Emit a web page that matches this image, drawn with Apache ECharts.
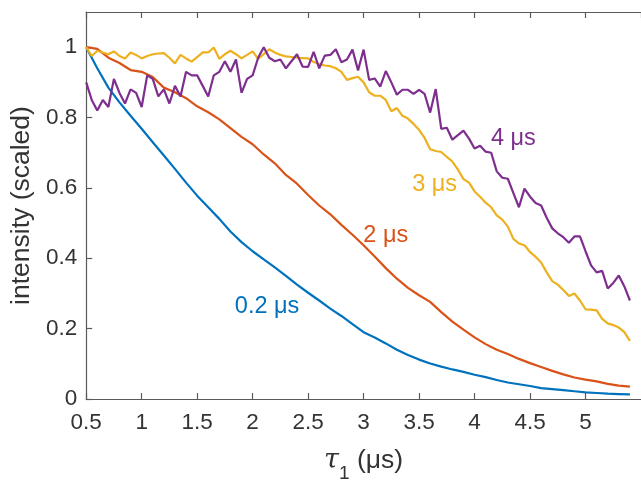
<!DOCTYPE html>
<html>
<head>
<meta charset="utf-8">
<script src="https://cdn.jsdelivr.net/npm/echarts@6/dist/echarts.min.js"></script>
<style>
html,body{margin:0;padding:0;background:#fff;overflow:hidden;}
#chart{width:641px;height:488px;}
</style>
</head>
<body>
<div id="chart"></div>
<script>
// time grids (μs)
const tauCoarse = [0.5,0.6,0.7,0.8,0.9,1.0,1.1,1.2,1.3,1.4,1.5,1.6,1.7,1.8,1.9,2.0,2.1,2.2,2.3,2.4,2.5,2.6,2.7,2.8,2.9,3.0,3.1,3.2,3.3,3.4,3.5,3.6,3.7,3.8,3.9,4.0,4.1,4.2,4.3,4.4,4.5,4.6,4.7,4.8,4.9,5.0,5.1,5.2,5.3,5.4];
const tauFine = [0.5,0.55,0.6,0.65,0.7,0.75,0.8,0.85,0.9,0.95,1.0,1.05,1.1,1.15,1.2,1.25,1.3,1.35,1.4,1.45,1.5,1.55,1.6,1.65,1.7,1.75,1.8,1.85,1.9,1.95,2.0,2.05,2.1,2.15,2.2,2.25,2.3,2.35,2.4,2.45,2.5,2.55,2.6,2.65,2.7,2.75,2.8,2.85,2.9,2.95,3.0,3.05,3.1,3.15,3.2,3.25,3.3,3.35,3.4,3.45,3.5,3.55,3.6,3.65,3.7,3.75,3.8,3.85,3.9,3.95,4.0,4.05,4.1,4.15,4.2,4.25,4.3,4.35,4.4,4.45,4.5,4.55,4.6,4.65,4.7,4.75,4.8,4.85,4.9,4.95,5.0,5.05,5.1,5.15,5.2,5.25,5.3,5.35,5.4];

// 0.2 μs (on tauCoarse)
const series02 = [1.00,0.94,0.885,0.843,0.805,0.768,0.73,0.692,0.654,0.615,0.578,0.545,0.512,0.476,0.446,0.42,0.397,0.374,0.35,0.325,0.302,0.28,0.257,0.236,0.213,0.19,0.175,0.158,0.14,0.125,0.112,0.101,0.092,0.084,0.077,0.069,0.062,0.054,0.047,0.042,0.037,0.031,0.028,0.025,0.022,0.019,0.017,0.015,0.014,0.013];
// 2 μs (on tauCoarse)
const series2 = [1.0,0.995,0.97,0.955,0.935,0.93,0.915,0.885,0.872,0.855,0.832,0.815,0.795,0.77,0.745,0.724,0.695,0.67,0.637,0.612,0.58,0.55,0.525,0.495,0.467,0.437,0.405,0.372,0.342,0.316,0.295,0.276,0.247,0.22,0.197,0.175,0.156,0.14,0.128,0.114,0.102,0.091,0.08,0.07,0.061,0.055,0.05,0.043,0.038,0.035];
// 3 μs (on tauFine)
const series3 = [1.0,0.975,0.99,0.985,0.98,0.988,0.975,0.968,0.985,0.978,0.968,0.975,0.98,0.982,0.983,0.97,0.954,0.978,0.968,0.959,0.972,0.985,0.985,0.999,0.967,0.98,0.99,0.98,0.968,0.978,0.988,0.967,0.98,0.994,0.985,0.978,0.974,0.972,0.97,0.969,0.968,0.958,0.952,0.948,0.946,0.94,0.93,0.907,0.912,0.916,0.9,0.872,0.862,0.862,0.85,0.818,0.827,0.805,0.797,0.782,0.765,0.742,0.71,0.705,0.702,0.688,0.675,0.652,0.625,0.615,0.59,0.575,0.558,0.545,0.522,0.51,0.49,0.455,0.442,0.437,0.418,0.404,0.388,0.36,0.335,0.325,0.31,0.293,0.30,0.28,0.255,0.254,0.252,0.228,0.215,0.21,0.203,0.19,0.165];
// 4 μs (on tauFine)
const series4 = [0.90,0.85,0.82,0.85,0.83,0.91,0.87,0.84,0.88,0.87,0.83,0.92,0.91,0.86,0.88,0.84,0.89,0.86,0.93,0.92,0.92,0.89,0.86,0.92,0.93,0.96,0.93,0.965,0.87,0.91,0.92,0.97,1.0,0.97,0.96,0.965,0.94,0.96,0.98,0.945,0.944,0.987,0.94,0.976,0.978,0.994,0.957,0.965,0.993,0.934,0.993,0.907,0.911,0.888,0.932,0.9,0.865,0.879,0.879,0.867,0.879,0.867,0.814,0.881,0.768,0.771,0.737,0.75,0.763,0.74,0.712,0.72,0.703,0.70,0.647,0.629,0.626,0.585,0.545,0.598,0.575,0.557,0.55,0.515,0.485,0.471,0.46,0.444,0.462,0.462,0.42,0.38,0.36,0.364,0.314,0.33,0.351,0.32,0.28];

const seriesNames = ['0.2 μs','2 μs','3 μs','4 μs'];
const seriesColors = ['#0072BD','#D95319','#EDB120','#7E2F8E'];
// annotation anchor points (data coordinates)
const labelTau = [2.13, 3.2, 3.64, 4.35];
const labelVal = [0.264, 0.464, 0.61, 0.74];

const xTicks = {min:0.5, max:5.5, interval:0.5};
const yTicks = {min:0, max:1.1, interval:0.2};

function pairs(xs, ys){ return ys.map((v,i)=>[xs[i], v]); }
const seriesData = [pairs(tauCoarse,series02), pairs(tauCoarse,series2), pairs(tauFine,series3), pairs(tauFine,series4)];

const axisColor = '#5a5a5a';
const textColor = '#333333';
const font = 'Liberation Sans, Arial, Helvetica, sans-serif';

const chart = echarts.init(document.getElementById('chart'), null, {renderer:'canvas'});
chart.setOption({
  animation:false,
  backgroundColor:'#ffffff',
  grid:{left:83, top:12, bottom:80, width:570, containLabel:false},
  xAxis:[{
    type:'value', min:xTicks.min, max:xTicks.max, interval:xTicks.interval,
    position:'bottom',
    axisLine:{show:true, onZero:false, lineStyle:{color:axisColor, width:1.2}},
    axisTick:{show:true, inside:true, length:6, lineStyle:{color:axisColor, width:1.2}},
    axisLabel:{show:true, margin:12, color:textColor, fontSize:22.5, fontFamily:font, showMaxLabel:false},
    splitLine:{show:false},
    name:'{t|τ}{s|1} {n|(μs)}', nameLocation:'middle', nameGap:48,
    nameTextStyle:{color:textColor, fontFamily:font, fontSize:26.5,
      rich:{
        t:{fontStyle:'italic', fontSize:27, fontFamily:'DejaVu Serif, serif', color:textColor},
        s:{fontSize:19, verticalAlign:'bottom', padding:[0,0,-9,0], color:textColor, fontFamily:font},
        n:{fontSize:26.5, color:textColor, fontFamily:font}
      }}
  },{
    type:'value', min:xTicks.min, max:xTicks.max, interval:xTicks.interval,
    position:'top',
    axisLine:{show:true, onZero:false, lineStyle:{color:axisColor, width:1.2}},
    axisTick:{show:true, inside:true, length:6, lineStyle:{color:axisColor, width:1.2}},
    axisLabel:{show:false}, splitLine:{show:false}
  }],
  yAxis:[{
    type:'value', min:yTicks.min, max:yTicks.max, interval:yTicks.interval,
    axisLine:{show:true, onZero:false, lineStyle:{color:axisColor, width:1.2}},
    axisTick:{show:true, inside:true, length:6, lineStyle:{color:axisColor, width:1.2}},
    axisLabel:{show:true, margin:9, color:textColor, fontSize:22.5, fontFamily:font, showMaxLabel:false},
    splitLine:{show:false},
    name:'intensity (scaled)', nameLocation:'middle', nameGap:47, nameRotate:90,
    nameTextStyle:{color:textColor, fontFamily:font, fontSize:26.5}
  }],
  series: seriesData.map((d,i)=>({
    name:seriesNames[i], type:'line', xAxisIndex:0, yAxisIndex:0,
    data:d, showSymbol:false, symbol:'none', smooth:false, clip:true,
    lineStyle:{color:seriesColors[i], width:2.2},
    itemStyle:{color:seriesColors[i]},
    markPoint:{
      symbol:'circle', symbolSize:0, silent:true,
      itemStyle:{color:'rgba(0,0,0,0)'},
      label:{show:true, position:'inside', formatter:seriesNames[i], color:seriesColors[i], fontSize:23.5, fontFamily:font},
      data:[{coord:[labelTau[i], labelVal[i]]}]
    }
  }))
});
</script>
</body>
</html>
